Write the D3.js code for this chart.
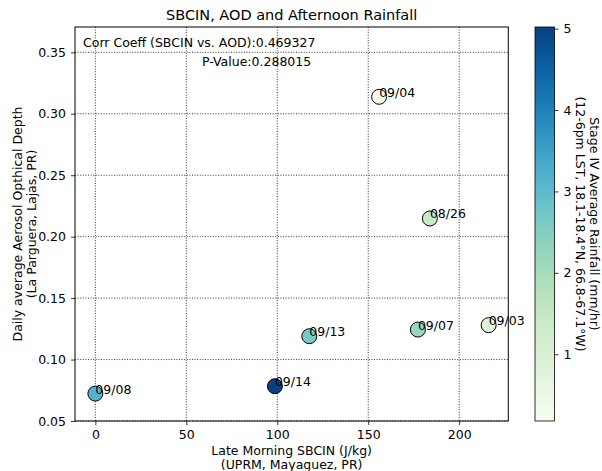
<!DOCTYPE html>
<html><head><meta charset="utf-8">
<script src="https://cdn.jsdelivr.net/npm/d3@7"></script>
<style>body{margin:0;background:#fff}svg{display:block;font-family:"DejaVu Sans",sans-serif}</style>
</head><body><svg id="c" width="602" height="471"></svg>
<script>
const dates = ["09/08","09/14","09/13","09/04","09/07","08/26","09/03"];
const sbcin = [0, 98.7, 117.6, 156.0, 177.3, 183.9, 216.2];
const aod = [0.0723, 0.0783, 0.119, 0.3138, 0.1244, 0.2148, 0.128];
const rain = [3.15, 5.02, 2.65, 0.18, 2.2, 1.4, 0.8];
const xTicks = [0, 50, 100, 150, 200];
const yTicks = [0.05, 0.10, 0.15, 0.20, 0.25, 0.30, 0.35];
const cTicks = [1, 2, 3, 4, 5];
const corrText = "Corr Coeff (SBCIN vs. AOD):0.469327";
const pText = "P-Value:0.288015";

const svg = d3.select("#c");
const L = 75, R = 508.3, T = 27, B = 421;
const x = d3.scaleLinear().domain([-11.2, 227]).range([L, R]);
const y = d3.scaleLinear().domain([0.05, 0.3706]).range([B, T]);
const cmin = d3.min(rain), cmax = d3.max(rain);
const color = d3.scaleSequential(d3.interpolateGnBu).domain([cmin, cmax]);

// grid
const g = svg.append("g");
g.selectAll(".gx").data(xTicks).join("line")
  .attr("x1", d => x(d)).attr("x2", d => x(d)).attr("y1", T).attr("y2", B)
  .attr("stroke", "#000").attr("stroke-width", 0.8).attr("stroke-dasharray", "1,1.6");
g.selectAll(".gy").data(yTicks).join("line")
  .attr("x1", L).attr("x2", R).attr("y1", d => y(d)).attr("y2", d => y(d))
  .attr("stroke", "#000").attr("stroke-width", 0.8).attr("stroke-dasharray", "1,1.6");

// axes
const xAxis = svg.append("g").attr("transform", `translate(0,${B})`)
  .call(d3.axisBottom(x).tickValues(xTicks).tickFormat(d3.format("d")).tickSize(4).tickPadding(5));
const yAxis = svg.append("g").attr("transform", `translate(${L},0)`)
  .call(d3.axisLeft(y).tickValues(yTicks).tickFormat(d3.format(".2f")).tickSize(4).tickPadding(5));
[xAxis, yAxis].forEach(a => {
  a.select(".domain").remove();
  a.selectAll("text").attr("font-size", 12.5).attr("fill", "#000").attr("font-family", "DejaVu Sans");
  a.selectAll("line").attr("stroke", "#000").attr("stroke-width", 0.8);
});
svg.append("rect").attr("x", L).attr("y", T).attr("width", R - L).attr("height", B - T)
  .attr("fill", "none").attr("stroke", "#000").attr("stroke-width", 1);

// points
const idx = d3.range(dates.length);
svg.append("g").selectAll("circle").data(idx).join("circle")
  .attr("cx", i => x(sbcin[i])).attr("cy", i => y(aod[i])).attr("r", 7.5)
  .attr("fill", i => color(rain[i])).attr("stroke", "#000").attr("stroke-width", 1);
svg.append("g").selectAll("text").data(idx).join("text")
  .attr("x", i => x(sbcin[i])).attr("y", i => y(aod[i]))
  .attr("font-size", 12.5).text(i => dates[i]);

// annotations
svg.append("text").attr("x", 83).attr("y", 47).attr("font-size", 12.5).text(corrText);
svg.append("text").attr("x", 202).attr("y", 66).attr("font-size", 12.5).text(pText);

// title & labels
svg.append("text").attr("x", (L + R) / 2).attr("y", 20).attr("text-anchor", "middle")
  .attr("font-size", 14.5).text("SBCIN, AOD and Afternoon Rainfall");
svg.append("text").attr("x", (L + R) / 2).attr("y", 455).attr("text-anchor", "middle")
  .attr("font-size", 12.5).text("Late Morning SBCIN (J/kg)");
svg.append("text").attr("x", (L + R) / 2).attr("y", 469).attr("text-anchor", "middle")
  .attr("font-size", 12.5).text("(UPRM, Mayaguez, PR)");
const yl = svg.append("g").attr("transform", `translate(0,${(T + B) / 2}) rotate(-90)`);
yl.append("text").attr("x", 0).attr("y", 22).attr("text-anchor", "middle").attr("font-size", 12.5)
  .text("Daily average Aerosol Opthical Depth");
yl.append("text").attr("x", 0).attr("y", 36).attr("text-anchor", "middle").attr("font-size", 12.5)
  .text("(La Parguera, Lajas, PR)");

// colorbar
const CL = 535, CR = 554.5;
const cy = d3.scaleLinear().domain([cmin, cmax]).range([B, T]);
const defs = svg.append("defs");
const grad = defs.append("linearGradient").attr("id", "cg").attr("x1", 0).attr("x2", 0).attr("y1", 1).attr("y2", 0);
d3.range(0, 1.0001, 0.05).forEach(t => grad.append("stop").attr("offset", t).attr("stop-color", d3.interpolateGnBu(t)));
svg.append("rect").attr("x", CL).attr("y", T).attr("width", CR - CL).attr("height", B - T)
  .attr("fill", "url(#cg)").attr("stroke", "#000").attr("stroke-width", 0.8);
const cAxis = svg.append("g").attr("transform", `translate(${CR},0)`)
  .call(d3.axisRight(cy).tickValues(cTicks).tickFormat(d3.format("d")).tickSize(4).tickPadding(5));
cAxis.select(".domain").remove();
cAxis.selectAll("text").attr("font-size", 12.5).attr("fill", "#000").attr("font-family", "DejaVu Sans");
cAxis.selectAll("line").attr("stroke", "#000").attr("stroke-width", 0.8);
const cl = svg.append("g").attr("transform", `translate(0,${(T + B) / 2}) rotate(90)`);
cl.append("text").attr("x", 0).attr("y", -590).attr("text-anchor", "middle").attr("font-size", 12.5)
  .text("Stage IV Average Rainfall (mm/hr)");
cl.append("text").attr("x", 0).attr("y", -576).attr("text-anchor", "middle").attr("font-size", 12.5)
  .text("(12-6pm LST, 18.1-18.4°N, 66.8-67.1°W)");
</script></body></html>
